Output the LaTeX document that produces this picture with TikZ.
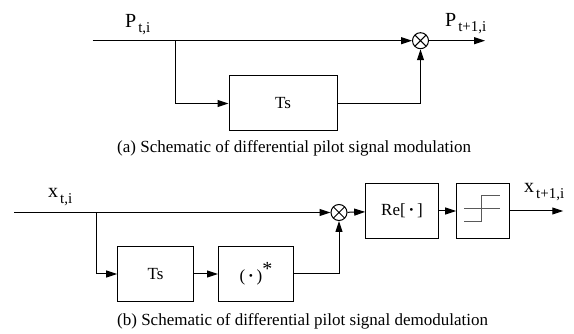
\documentclass[tikz,border=0pt]{standalone}
\usepackage{fontspec}
\setmainfont{Liberation Serif}
\usetikzlibrary{arrows.meta}
\tikzset{
  blk/.style={draw,line width=1pt,inner sep=0pt,font=\fontsize{17}{19}\selectfont},
  mult/.style={draw,circle,line width=1pt,minimum size=16pt,inner sep=0pt,
    path picture={\draw[line width=1pt] (path picture bounding box.north west) -- (path picture bounding box.south east)
      (path picture bounding box.north east) -- (path picture bounding box.south west);}},
  sig/.style={line width=1pt,-{Triangle[length=11pt,width=7pt]}},
  wire/.style={line width=1pt},
  lbl/.style={anchor=base west,inner sep=0pt,font=\fontsize{20}{22}\selectfont},
  captxt/.style={anchor=base west,inner sep=0pt,font=\fontsize{17}{19}\selectfont},
}
\newcommand{\sbs}[2][5pt]{\kern2pt\raisebox{-#1}{\fontsize{15}{15}\selectfont #2}}
\begin{document}
\begin{tikzpicture}[x=1pt,y=-1pt]
\path[use as bounding box] (0,0) rectangle (574,334);
\node[blk,minimum width=108pt,minimum height=55pt] (tsa) at (283,103.5) {Ts};
\node[mult] (mula) at (420.5,40.7) {};
\coordinate (ina) at (92.7,40.7);
\coordinate (bra) at (175.7,40.7);
\coordinate (outa) at (485,40.7);
\draw[sig] (ina) -- (mula);
\draw[sig] (bra) |- (tsa);
\draw[sig] (tsa) -| (mula);
\draw[sig] (mula) -- (outa);
\node[lbl] (pin) at (125,27.5) {P\sbs{t,i}};
\node[lbl] (pout) at (445,26.7) {P\sbs{t+1,i}};
\node[captxt] (capa) at (117,153) {(a) Schematic of differential pilot signal modulation};
\node[blk,minimum width=75.6pt,minimum height=55pt] (tsb) at (155.5,274) {Ts};
\node[blk,minimum width=75pt,minimum height=55pt] (conj) at (256,274) {(\,{\bfseries ·}\,)\raisebox{6pt}{\fontsize{20}{20}\selectfont *}};
\node[mult] (mulb) at (339,212.5) {};
\node[blk,minimum width=72.6pt,minimum height=54.4pt] (re) at (402,211) {Re[\,{\bfseries ·}\,]};
\node[blk,minimum width=53.3pt,minimum height=54.4pt] (thr) at (483.3,211) {};
\coordinate (inb) at (14,212.5);
\coordinate (brb) at (96.7,212.5);
\coordinate (outb) at (563.3,211);
\draw[sig] (inb) -- (mulb);
\draw[sig] (brb) |- (tsb);
\draw[sig] (tsb) -- (conj);
\draw[sig] (conj) -| (mulb);
\draw[sig] (mulb) -- (re);
\draw[sig] (re) -- (thr);
\draw[sig] (thr) -- (outb);
\draw[wire,black!65] (464.3,208.3) -- (500,208.3);
\draw[wire,black!65] (464.3,221.7) -- (481.7,221.7) -- (481.7,196) -- (500,196);
\node[lbl] (xin) at (48,198) {x\sbs[6pt]{t,i}};
\node[lbl] (xout) at (524,193) {x\sbs[6pt]{t+1,i}};
\node[captxt] (capb) at (117,326) {(b) Schematic of differential pilot signal demodulation};
\end{tikzpicture}
\end{document}
